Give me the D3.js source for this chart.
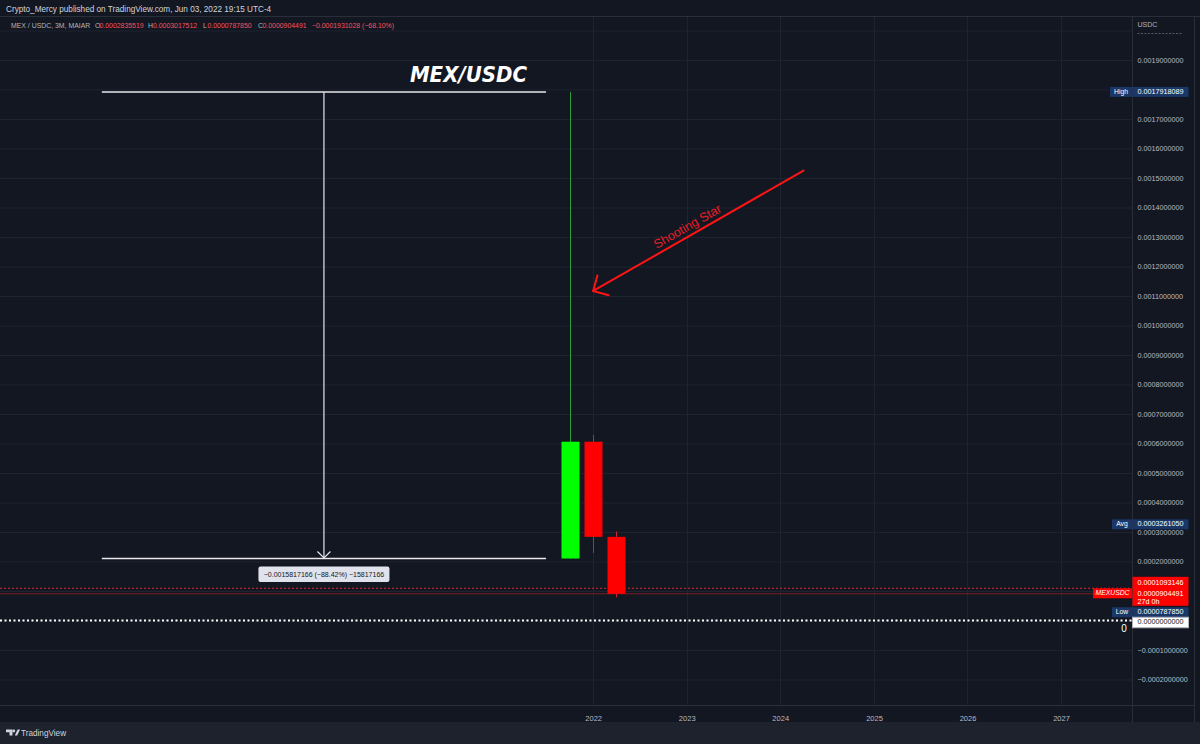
<!DOCTYPE html>
<html>
<head>
<meta charset="utf-8">
<script src="https://cdnjs.cloudflare.com/ajax/libs/d3/7.8.5/d3.min.js"></script>
<style>
    body { margin: 0; background: #131722; }
    svg { display: block; font-family: "Liberation Sans", Arial, sans-serif; }
</style>
</head>
<body>
<script>

// quarterly candles (3M)
let candleDates = ["2021-10-01", "2022-01-01", "2022-04-01"];
let opens  = [0.0002100923, 0.0006060000, 0.0002835519];
let highs  = [0.0017918089, 0.0006290000, 0.0003017512];
let lows   = [0.0002100923, 0.0002290000, 0.0000787850];
let closes = [0.0006060000, 0.0002835519, 0.0000904491];

let yearTicks = ["2022-01-01", "2023-01-01", "2024-01-01", "2025-01-01", "2026-01-01", "2027-01-01"];
let gridPrices = [-0.0002, -0.0001, 0, 0.0001, 0.0002, 0.0003, 0.0004, 0.0005, 0.0006, 0.0007,
    0.0008, 0.0009, 0.0010, 0.0011, 0.0012, 0.0013, 0.0014, 0.0015, 0.0016, 0.0017,
    0.0018, 0.0019, 0.0020];
let labelPrices = [-0.0002, -0.0001, 0.0002, 0.0003, 0.0004, 0.0005, 0.0006, 0.0007,
    0.0008, 0.0009, 0.0010, 0.0011, 0.0012, 0.0013, 0.0014, 0.0015, 0.0016, 0.0017, 0.0019];

let highValue = 0.0017918089;
let avgValue = 0.0003261050;
let lowValue = 0.0000787850;
let prevValue = 0.0001093146;
let closeValue = 0.0000904491;
let zeroLine = 0;

// price range drawing
let rangeDates = ["2016-10-01", "2021-07-01"];
let rangePrices = [0.0017918089, 0.0002100923];
let rangeText = "\u22120.0015817166 (\u221288.42%) \u221215817166";

// arrow drawing
let arrowDates = ["2024-04-01", "2022-01-01"];
let arrowPrices = [0.001525, 0.001117];
let arrowText = "Shooting Star";

let titleDate = "2020-09-01", titlePrice = 0.001826, titleText = "MEX/USDC";

let headerTop = "Crypto_Mercy published on TradingView.com, Jun 03, 2022 19:15 UTC-4";
let legendParts = [
    ["MEX / USDC, 3M, MAIAR", 11, "#b2b5be"],
    ["O", 95, "#b2b5be"], ["0.0002835519", 99.5, "#f7525f"],
    ["H", 148, "#b2b5be"], ["0.0003017512", 153, "#f7525f"],
    ["L", 203, "#b2b5be"], ["0.0000787850", 207.5, "#f7525f"],
    ["C", 258, "#b2b5be"], ["0.0000904491", 262.5, "#f7525f"],
    ["\u22120.0001931028 (\u221268.10%)", 312, "#f7525f"]
];

let W = 1200, H = 744;
let axisX = 1132, plotTop = 17, plotBottom = 705, footerTop = 722;

let parseDate = d3.utcParse("%Y-%m-%d");

let x = d3.scaleUtc()
    .domain([parseDate("2022-01-01"), parseDate("2027-01-01")])
    .range([593.2, 1061]);

let y = d3.scaleLinear()
    .domain([0, 0.0019])
    .range([620.5, 60]);

let svg = d3.select("body").append("svg")
    .attr("width", W)
    .attr("height", H);

svg.append("rect").attr("width", W).attr("height", H).attr("fill", "#131722");
svg.append("rect").attr("y", footerTop).attr("width", W).attr("height", H - footerTop).attr("fill", "#1e222d");

svg.append("defs").append("clipPath").attr("id", "plot")
    .append("rect").attr("x", 0).attr("y", plotTop).attr("width", axisX).attr("height", plotBottom - plotTop);

let plot = svg.append("g").attr("clip-path", "url(#plot)");

// grid
plot.selectAll("line.hgrid").data(gridPrices).enter().append("line")
    .attr("x1", 0).attr("x2", axisX)
    .attr("y1", d => y(d) + 0.5).attr("y2", d => y(d) + 0.5)
    .attr("stroke", "#1f2330").attr("stroke-width", 1);

plot.selectAll("line.vgrid").data(yearTicks).enter().append("line")
    .attr("x1", d => Math.round(x(parseDate(d))) + 0.5).attr("x2", d => Math.round(x(parseDate(d))) + 0.5)
    .attr("y1", plotTop).attr("y2", plotBottom)
    .attr("stroke", "#1f2330").attr("stroke-width", 1);

// frame lines
svg.append("line").attr("x1", 0).attr("x2", W).attr("y1", plotTop - 0.5).attr("y2", plotTop - 0.5).attr("stroke", "#2a2e39");
svg.append("line").attr("x1", 0).attr("x2", 1194).attr("y1", plotBottom + 0.5).attr("y2", plotBottom + 0.5).attr("stroke", "#2a2e39");
svg.append("line").attr("x1", axisX + 0.5).attr("x2", axisX + 0.5).attr("y1", plotTop).attr("y2", footerTop).attr("stroke", "#2a2e39");
svg.append("line").attr("x1", 1194.5).attr("x2", 1194.5).attr("y1", plotTop).attr("y2", footerTop).attr("stroke", "#2a2e39");

// price lines
plot.append("line")
    .attr("x1", 0).attr("x2", axisX)
    .attr("y1", y(closeValue)).attr("y2", y(closeValue))
    .attr("stroke", "#7a1c22").attr("stroke-width", 1);
plot.append("line")
    .attr("x1", 0).attr("x2", axisX)
    .attr("y1", y(prevValue)).attr("y2", y(prevValue))
    .attr("stroke", "#e0222c").attr("stroke-width", 1).attr("stroke-dasharray", "2,2");

// candles
let candles = candleDates.map((d, i) => ({
    date: parseDate(d), open: opens[i], high: highs[i], low: lows[i], close: closes[i]
}));
let bodyW = 18;

plot.selectAll("line.wick").data(candles).enter().append("line")
    .attr("x1", d => Math.round(x(d.date)) + 0.5).attr("x2", d => Math.round(x(d.date)) + 0.5)
    .attr("y1", d => y(d.high)).attr("y2", d => y(d.low))
    .attr("stroke", d => d.close >= d.open ? "#2f9e3a" : "#c8262e").attr("stroke-width", 1);

plot.selectAll("rect.body").data(candles).enter().append("rect")
    .attr("x", d => Math.round(x(d.date)) + 0.5 - bodyW / 2)
    .attr("width", bodyW)
    .attr("y", d => y(Math.max(d.open, d.close)))
    .attr("height", d => Math.abs(y(d.open) - y(d.close)))
    .attr("fill", d => d.close >= d.open ? "#00ff00" : "#ff0000");

// zero horizontal line drawing
plot.append("line")
    .attr("x1", 0).attr("x2", axisX)
    .attr("y1", y(zeroLine)).attr("y2", y(zeroLine))
    .attr("stroke", "#ffffff").attr("stroke-width", 2).attr("stroke-dasharray", "2,2.5");
svg.append("text")
    .attr("x", axisX - 8).attr("y", y(zeroLine) + 11.5)
    .attr("text-anchor", "middle")
    .attr("fill", "#ffffff").attr("font-size", 10)
    .text("0");

// price range tool
let rx1 = x(parseDate(rangeDates[0])), rx2 = x(parseDate(rangeDates[1]));
let rmid = (rx1 + rx2) / 2;
let ry1 = y(rangePrices[0]), ry2 = y(rangePrices[1]);
plot.selectAll("line.range").data(rangePrices).enter().append("line")
    .attr("x1", rx1).attr("x2", rx2)
    .attr("y1", d => y(d)).attr("y2", d => y(d))
    .attr("stroke", "#e8e8ec").attr("stroke-width", 1.5);
plot.append("line")
    .attr("x1", rmid).attr("x2", rmid).attr("y1", ry1).attr("y2", ry2 - 1)
    .attr("stroke", "#e8e8ec").attr("stroke-width", 1.2);
plot.append("path")
    .attr("d", "M" + (rmid - 6.5) + "," + (ry2 - 7) + "L" + rmid + "," + (ry2 - 0.5) + "L" + (rmid + 6.5) + "," + (ry2 - 7))
    .attr("fill", "none").attr("stroke", "#e8e8ec").attr("stroke-width", 1.2);
plot.append("rect")
    .attr("x", rmid - 65.5).attr("y", ry2 + 8).attr("width", 131).attr("height", 15.5)
    .attr("rx", 2).attr("fill", "#e0e3eb");
plot.append("text")
    .attr("x", rmid).attr("y", ry2 + 18.5)
    .attr("text-anchor", "middle").attr("font-size", 7).attr("fill", "#131722")
    .text(rangeText);

// title
plot.append("text")
    .attr("x", x(parseDate(titleDate))).attr("y", y(titlePrice))
    .attr("text-anchor", "middle")
    .attr("font-family", "'DejaVu Sans', sans-serif")
    .attr("font-weight", "bold").attr("font-style", "italic")
    .attr("font-size", 22)
    .attr("textLength", 117).attr("lengthAdjust", "spacingAndGlyphs")
    .attr("fill", "#ffffff")
    .text(titleText);

// shooting star arrow
let ax0 = x(parseDate(arrowDates[0])), ay0 = y(arrowPrices[0]);
let ax1 = x(parseDate(arrowDates[1])), ay1 = y(arrowPrices[1]);
let ang = Math.atan2(ay0 - ay1, ax0 - ax1);
let headLen = 16, spread = Math.PI / 4;
plot.append("line")
    .attr("x1", ax0).attr("y1", ay0).attr("x2", ax1).attr("y2", ay1)
    .attr("stroke", "#ff1414").attr("stroke-width", 2).attr("stroke-linecap", "round");
plot.append("path")
    .attr("d", "M" + (ax1 + headLen * Math.cos(ang - spread)) + "," + (ay1 + headLen * Math.sin(ang - spread)) +
        "L" + ax1 + "," + ay1 +
        "L" + (ax1 + headLen * Math.cos(ang + spread)) + "," + (ay1 + headLen * Math.sin(ang + spread)))
    .attr("fill", "none").attr("stroke", "#ff1414").attr("stroke-width", 2)
    .attr("stroke-linecap", "round").attr("stroke-linejoin", "round");
let tx = ax1 + (ax0 - ax1) * 0.47, ty = ay1 + (ay0 - ay1) * 0.47;
plot.append("text")
    .attr("transform", "translate(" + tx + "," + ty + ") rotate(" + (ang * 180 / Math.PI) + ")")
    .attr("y", -5)
    .attr("text-anchor", "middle").attr("font-size", 12.5).attr("fill", "#ec1c24")
    .text(arrowText);

// axes
let yAxis = d3.axisRight(y)
    .tickValues(labelPrices)
    .tickSize(0)
    .tickPadding(0)
    .tickFormat(d3.format(".10f"));

let yAxisG = svg.append("g")
    .attr("transform", "translate(" + (axisX + 5.5) + ",0)")
    .call(yAxis);
yAxisG.select(".domain").remove();
yAxisG.selectAll("text").attr("fill", "#b8bbc4").attr("font-size", 7.2).attr("font-family", "'Liberation Sans', Arial, sans-serif");

let xAxis = d3.axisBottom(x)
    .tickValues(yearTicks.map(parseDate))
    .tickSize(0)
    .tickPadding(0)
    .tickFormat(d3.utcFormat("%Y"));

let xAxisG = svg.append("g")
    .attr("transform", "translate(0," + (plotBottom + 10.5) + ")")
    .call(xAxis);
xAxisG.select(".domain").remove();
xAxisG.selectAll("text").attr("fill", "#b8bbc4").attr("font-size", 7.5).attr("font-family", "'Liberation Sans', Arial, sans-serif");

svg.append("text").attr("x", axisX + 5.5).attr("y", 27).attr("font-size", 7).attr("fill", "#b2b5be").text("USDC");
svg.append("line").attr("x1", axisX + 5.5).attr("x2", axisX + 51).attr("y1", 33.5).attr("y2", 33.5)
    .attr("stroke", "#555a66").attr("stroke-dasharray", "2,1.5");

// price scale labels
function valueLabel(cy, h, fill, textFill, lines, border) {
    let g = svg.append("g");
    g.append("rect")
        .attr("x", axisX + 0.5).attr("y", cy - h / 2).attr("width", 56).attr("height", h)
        .attr("fill", fill).attr("stroke", border || "none");
    lines.forEach(l => {
        g.append("text")
            .attr("x", axisX + 5.5).attr("y", cy + l[1])
            .attr("font-size", 7.2).attr("fill", textFill).attr("dominant-baseline", "middle")
            .text(l[0]);
    });
}
function tagLabel(cy, text, fill, w, italic) {
    svg.append("rect")
        .attr("x", axisX - w).attr("y", cy - 5).attr("width", w).attr("height", 10).attr("fill", fill);
    svg.append("text")
        .attr("x", axisX - w / 2).attr("y", cy + 0.3)
        .attr("text-anchor", "middle").attr("dominant-baseline", "middle")
        .attr("font-size", 6.8).attr("fill", "#ffffff")
        .attr("font-style", italic ? "italic" : "normal")
        .text(text);
}

let fmt = d3.format(".10f");
let navy = "#1b3768";

tagLabel(y(highValue), "High", navy, 22);
valueLabel(y(highValue), 10, navy, "#ffffff", [[fmt(highValue), 0]]);

tagLabel(y(avgValue), "Avg", navy, 20);
valueLabel(y(avgValue), 10, navy, "#ffffff", [[fmt(avgValue), 0]]);

let cY = y(closeValue);
svg.append("rect")
    .attr("x", axisX + 0.5).attr("y", cY - 17).attr("width", 56).attr("height", 29).attr("fill", "#ff0000");
[[fmt(prevValue), -10.5], [fmt(closeValue), 0], ["27d 0h", 8.5]].forEach(l => {
    svg.append("text")
        .attr("x", axisX + 5.5).attr("y", cY + l[1])
        .attr("dominant-baseline", "middle").attr("font-size", 7.2).attr("fill", "#ffffff")
        .text(l[0]);
});
tagLabel(cY - 0.5, "MEXUSDC", "#ff0000", 39, true);

tagLabel(y(lowValue) + 15, "Low", navy, 20);
valueLabel(y(lowValue) + 15, 10, navy, "#ffffff", [[fmt(lowValue), 0]]);

valueLabel(y(zeroLine) + 2, 10.5, "#ffffff", "#131722", [[fmt(zeroLine), 0]], "#b2b5be");

// header
svg.append("text")
    .attr("x", 6).attr("y", 11.5)
    .attr("font-size", 8.2).attr("fill", "#d1d4dc")
    .text(headerTop);

let legend = svg.append("text").attr("y", 27.5).attr("font-size", 6.9);
legendParts.forEach(p => {
    legend.append("tspan").attr("x", p[1]).attr("fill", p[2]).text(p[0]);
});

// footer logo
let logo = svg.append("g").attr("fill", "#d1d4dc");
logo.append("path").attr("d", "M6,729.5h6.5v6h-3v-3.2h-3.5z");
logo.append("circle").attr("cx", 13.8).attr("cy", 731).attr("r", 1.4);
logo.append("path").attr("d", "M14.8,735.5l2.8,-6h2.4l-2.8,6z");
svg.append("text")
    .attr("x", 21).attr("y", 736)
    .attr("font-size", 8.2).attr("fill", "#d1d4dc")
    .text("TradingView");

</script>
</body>
</html>
